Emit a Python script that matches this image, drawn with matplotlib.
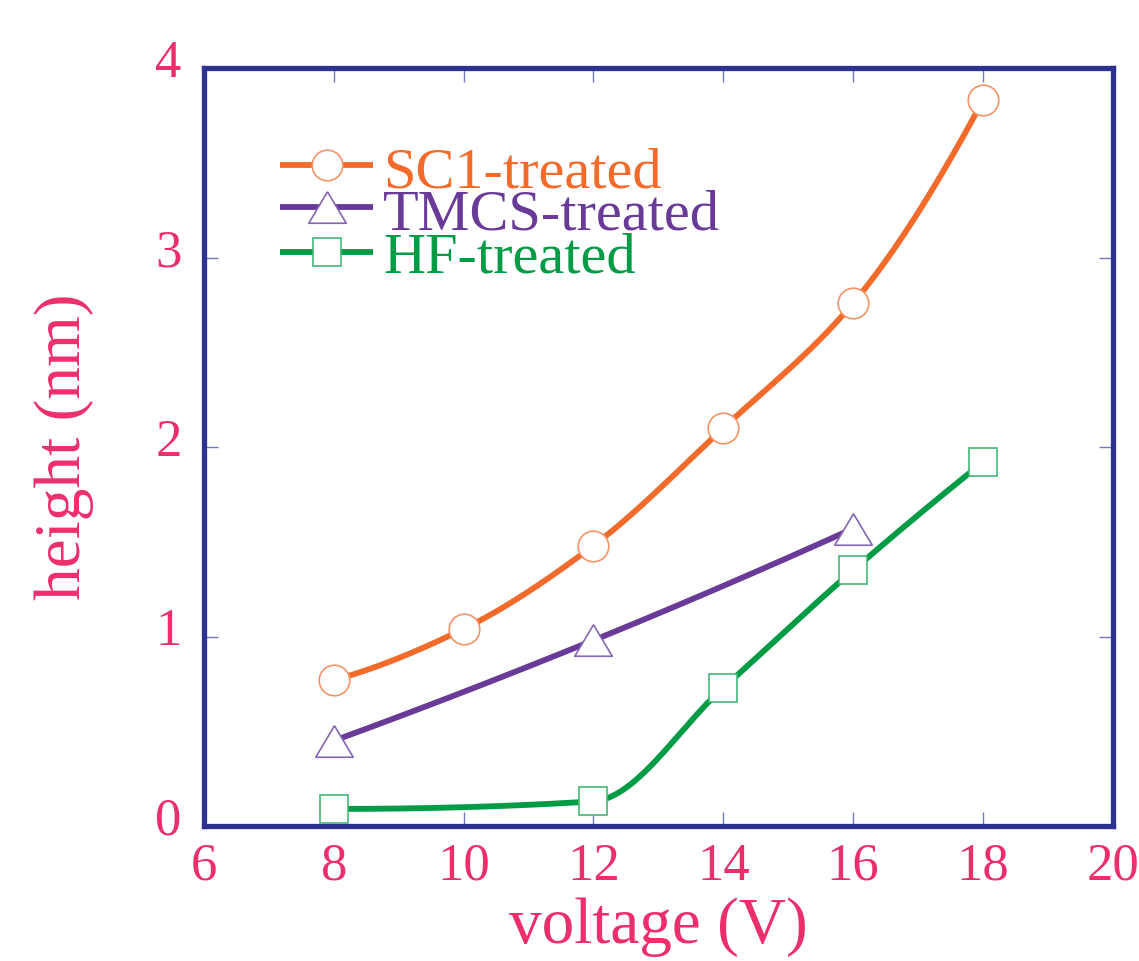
import numpy as np
import matplotlib.pyplot as plt
from matplotlib.lines import Line2D
from matplotlib.transforms import ScaledTranslation

# measured points
volt_sc1 = [8, 10, 12, 14, 16, 18]
height_sc1 = [0.77, 1.04, 1.48, 2.10, 2.76, 3.83]

volt_tmcs = [8, 12, 16]
height_tmcs = [0.45, 0.98, 1.57]

volt_hf = [8, 12, 14, 16, 18]
height_hf = [0.09, 0.13, 0.73, 1.35, 1.92]

labels = ['SC1-treated', 'TMCS-treated', 'HF-treated']

line_colors = ['#f26b2a', '#6a3a98', '#009c45']
edge_colors = ['#f49468', '#8566b3', '#45b677']
pink = '#ec2f6b'
navy = '#2e3192'
tick_col = '#7479bd'

tri = [(0, 0.84), (-1, -0.84), (1, -0.84), (0, 0.84)]
markers = ['o', tri, 's']
msizes = [22, 27, 19.5]


def pchip(x, y, xn):
    x = np.asarray(x, float)
    y = np.asarray(y, float)
    h = np.diff(x)
    dl = np.diff(y) / h
    n = len(x)
    d = np.zeros(n)
    for k in range(1, n - 1):
        if dl[k - 1] * dl[k] > 0:
            w1 = 2 * h[k] + h[k - 1]
            w2 = h[k] + 2 * h[k - 1]
            d[k] = (w1 + w2) / (w1 / dl[k - 1] + w2 / dl[k])

    def end(h0, h1, d0, d1):
        s = ((2 * h0 + h1) * d0 - h0 * d1) / (h0 + h1)
        if np.sign(s) != np.sign(d0):
            return 0.0
        if np.sign(d0) != np.sign(d1) and abs(s) > abs(3 * d0):
            return 3 * d0
        return s

    if n > 2:
        d[0] = end(h[0], h[1], dl[0], dl[1])
        d[-1] = end(h[-1], h[-2], dl[-1], dl[-2])
    else:
        d[:] = dl[0]
    idx = np.clip(np.searchsorted(x, xn) - 1, 0, n - 2)
    t = (xn - x[idx]) / h[idx]
    h00 = 2 * t**3 - 3 * t**2 + 1
    h10 = t**3 - 2 * t**2 + t
    h01 = -2 * t**3 + 3 * t**2
    h11 = t**3 - t**2
    return h00 * y[idx] + h10 * h[idx] * d[idx] + h01 * y[idx + 1] + h11 * h[idx] * d[idx + 1]


plt.rcParams['font.family'] = ['Liberation Serif', 'DejaVu Serif']

fig = plt.figure(figsize=(11.39, 9.61), dpi=100)
ax = fig.add_axes([0.179, 0.1405, 0.798, 0.7885])

series = [(volt_sc1, height_sc1), (volt_tmcs, height_tmcs), (volt_hf, height_hf)]
for i, (xs, ys) in enumerate(series):
    xx = np.linspace(xs[0], xs[-1], 300)
    ax.plot(xx, pchip(xs, ys, xx), color=line_colors[i], lw=4.2,
            solid_capstyle='butt', zorder=2)
    ax.plot(xs, ys, linestyle='none', marker=markers[i], ms=msizes[i],
            mfc='white', mec=edge_colors[i], mew=1.2, zorder=3)

# legend drawn by hand to match tight row spacing
leg_y = [0.872, 0.817, 0.757]
txt_y = [0.843, 0.787, 0.731]
for i in range(3):
    ax.add_line(Line2D([0.0836, 0.186], [leg_y[i], leg_y[i]], transform=ax.transAxes,
                       color=line_colors[i], lw=4.2, solid_capstyle='butt', zorder=4))
    ax.add_line(Line2D([0.135], [leg_y[i]], transform=ax.transAxes, linestyle='none',
                       marker=markers[i], ms=msizes[i], mfc='white',
                       mec=edge_colors[i], mew=1.2, zorder=5))
    ax.text(0.197, txt_y[i], labels[i], transform=ax.transAxes, color=line_colors[i],
            fontsize=42, va='baseline', ha='left', zorder=5)

ax.set_xlim(6, 20)
ax.set_ylim(0, 4)
ax.set_xticks(np.arange(6, 21, 2))
ax.set_yticks(np.arange(0, 5, 1))

for sp in ax.spines.values():
    sp.set_color(navy)
    sp.set_linewidth(3.8)

ax.tick_params(direction='in', length=10, width=1.0, color=tick_col,
               top=True, right=True, labelsize=38, labelcolor=pink)
ax.tick_params(axis='x', pad=12)
ax.tick_params(axis='y', pad=16)

# y tick labels sit a little above their ticks in the original
up = ScaledTranslation(0, 7 / 72, fig.dpi_scale_trans)
for lab in ax.get_yticklabels():
    lab.set_transform(lab.get_transform() + up)

ax.set_xlabel('voltage (V)', fontsize=47, color=pink, labelpad=5)
ax.set_ylabel('height (nm)', fontsize=47, color=pink, labelpad=44)

fig.savefig('out.png', dpi=100)
